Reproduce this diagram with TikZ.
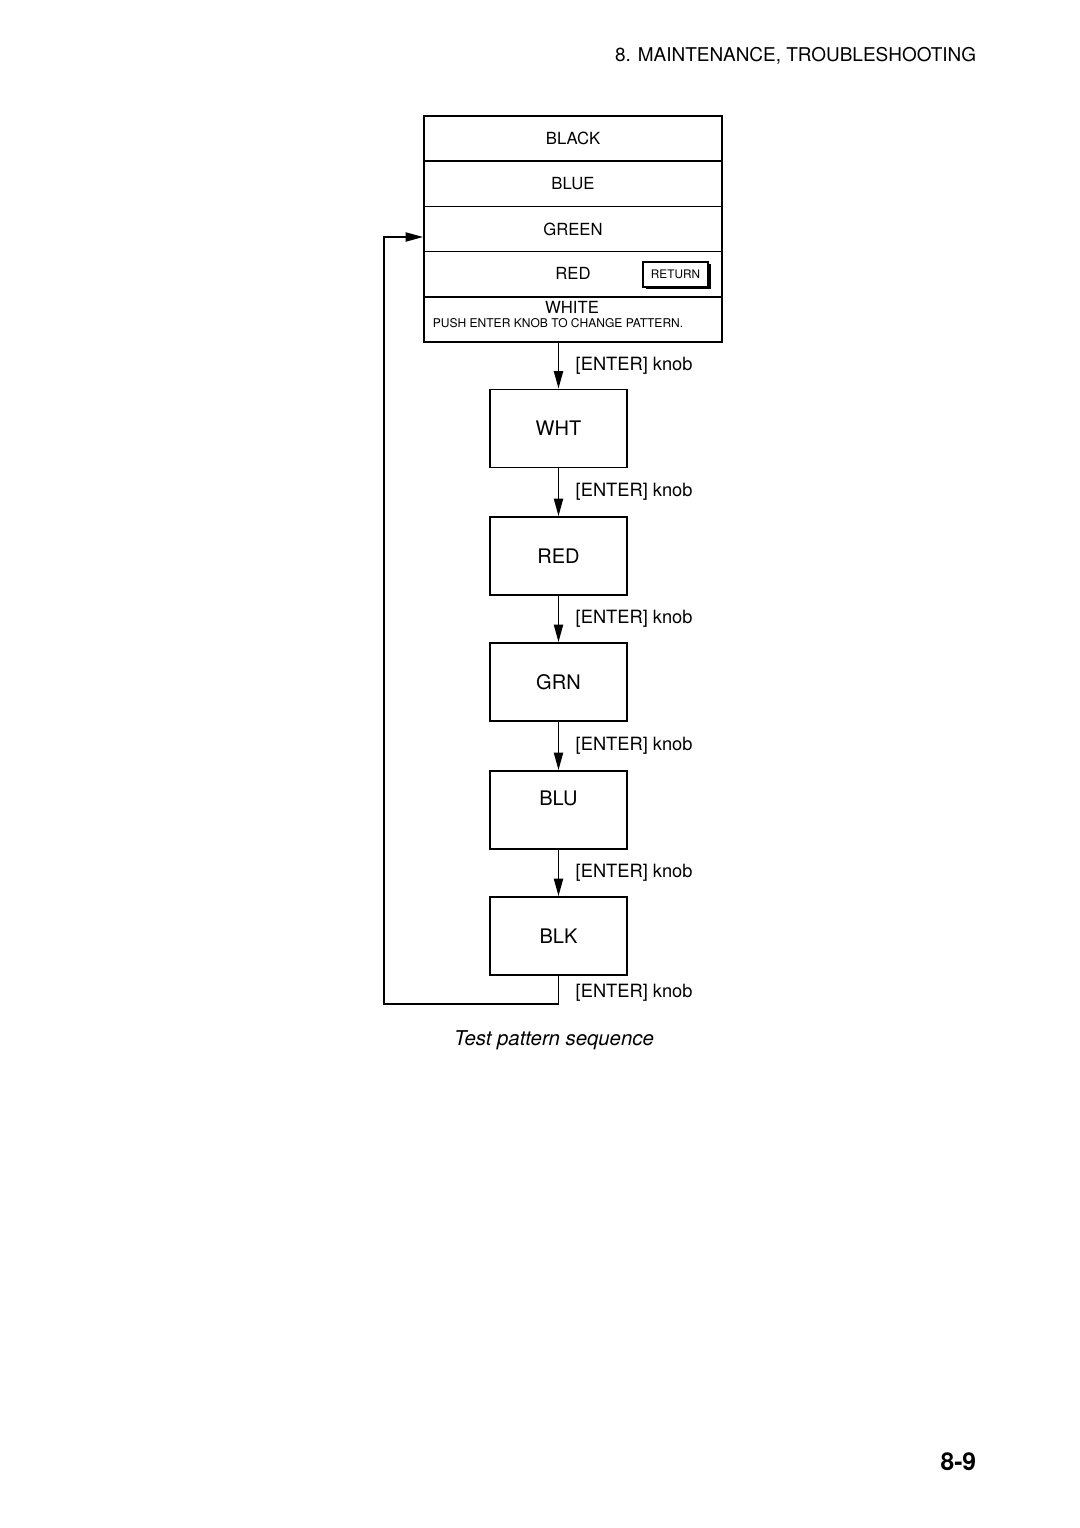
\documentclass[tikz,border=0pt]{standalone}
\usepackage{fontspec}
\setmainfont{TeX Gyre Heros}
\usetikzlibrary{positioning, arrows.meta, shadows}

\begin{document}
\begin{tikzpicture}[
		mrow/.style={draw, rectangle, minimum width=5.96cm, minimum height=0.904cm,
			inner sep=0pt, font=\fontsize{9.5}{11}\selectfont},
		pat/.style={draw, rectangle, minimum width=2.74cm, minimum height=1.56cm,
			inner sep=0pt, font=\fontsize{11.4}{13}\selectfont},
		knob/.style={font=\fontsize{10.4}{12}\selectfont},
		>={Triangle[length=10pt,width=5.2pt]},
		line width=1pt
		]
		\useasboundingbox (0,0) rectangle (21.6,-30.56);
		% page header and footer
		\node[anchor=east, inner sep=0, font=\fontsize{10.8}{13}\selectfont] (head) at (19.54,-1.12) {8. MAINTENANCE, TROUBLESHOOTING};
		\node[anchor=east, inner sep=0, font=\fontsize{14}{16}\bfseries] (page) at (19.54,-29.24) {8-9};
		% menu window
		\node[mrow] (mblack) at (11.46,-2.772) {BLACK};
		\node[mrow] (mblue) at (11.46,-3.676) {BLUE};
		\node[mrow] (mgreen) at (11.46,-4.58) {GREEN};
		\node[mrow] (mred) at (11.46,-5.484) {};
		\node[mrow] (mwhite) at (11.46,-6.388) {};
		\node[font=\fontsize{9.5}{11}\selectfont] (tred) at (11.46,-5.46) {RED};
		\node[draw, fill=white, minimum width=1.3cm, minimum height=0.5cm, inner sep=0pt,
			line width=0.6pt, font=\fontsize{6.7}{8}\selectfont,
			drop shadow={shadow xshift=0.06cm, shadow yshift=-0.04cm, opacity=1, fill=black}] (ret) at (13.51,-5.49) {RETURN};
		\node[font=\fontsize{9.5}{11}\selectfont] (twhite) at (11.44,-6.14) {WHITE};
		\node[font=\fontsize{6.86}{8}\selectfont] (push) at (11.16,-6.46) {PUSH ENTER KNOB TO CHANGE PATTERN.};
		% pattern sequence
		\node[pat] (wht) at (11.17,-8.57) {WHT};
		\node[pat] (red) at (11.17,-11.12) {RED};
		\node[pat] (grn) at (11.17,-13.64) {GRN};
		\node[pat, text depth=0.48cm] (blu) at (11.17,-16.2) {BLU};
		\node[pat] (blk) at (11.17,-18.72) {BLK};
		\draw[->] (mwhite.south -| wht.north) -- (wht.north) node[knob, midway, right=0.21cm] {[ENTER] knob};
		\foreach \a/\b in {wht/red, red/grn, grn/blu, blu/blk}
			\draw[->] (\a) -- (\b) node[knob, midway, right=0.21cm] {[ENTER] knob};
		% back to the menu
		\coordinate (back) at (7.68,-20.08);
		\draw[->] (blk.south) |- (back) |- ([yshift=-0.16cm]mgreen.west);
		\node[knob, anchor=west] (lastknob) at (11.38,-19.86) {[ENTER] knob};
		\node[font=\fontsize{11.6}{14}\selectfont\itshape] (caption) at (11.08,-20.8) {Test pattern sequence};
\end{tikzpicture}
\end{document}
